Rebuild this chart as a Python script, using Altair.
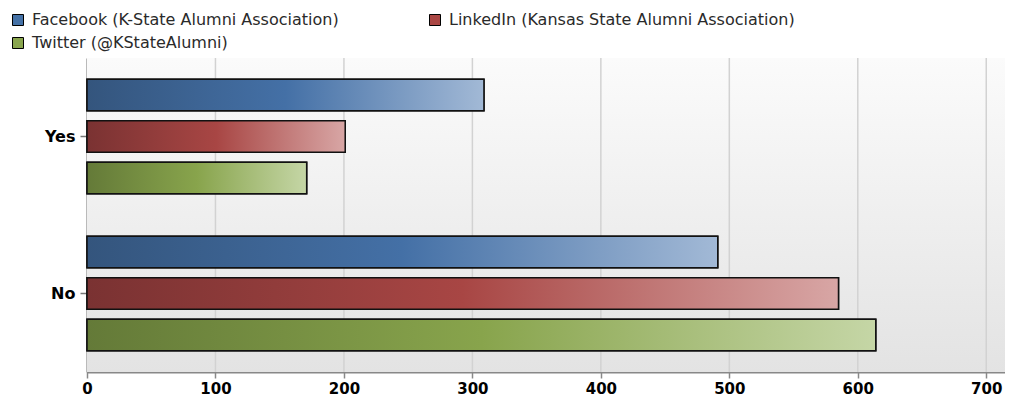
import altair as alt
import pandas as pd

categories = ["Yes", "No"]
series = [
    "Facebook (K-State Alumni Association)",
    "LinkedIn (Kansas State Alumni Association)",
    "Twitter (@KStateAlumni)",
]
facebook = [309, 491]
linkedin = [201, 585]
twitter = [171, 614]
x_ticks = [0, 100, 200, 300, 400, 500, 600, 700]

solid = ["#4572A7", "#AA4643", "#89A54E"]
grads = [
    ["#34557d", "#4470a6", "#a2b9d6"],
    ["#7a3232", "#a84644", "#d8a6a5"],
    ["#647a38", "#88a44c", "#c5d6a6"],
]

rows = []
for s, vals in zip(series, [facebook, linkedin, twitter]):
    for c, v in zip(categories, vals):
        rows.append({"category": c, "series": s, "value": v})
df = pd.DataFrame(rows)

W, H = 918, 314
XMAX = 714.6

xscale = alt.Scale(domain=[0, XMAX], nice=False, zero=True)
yscale = alt.Scale(domain=categories, paddingInner=0, paddingOuter=0)
yoff = alt.YOffset("series:N", sort=series,
                   scale=alt.Scale(domain=series, paddingInner=0.24, paddingOuter=0.51))

xaxis = alt.Axis(values=x_ticks, grid=False, title=None, domainColor="#888888", domainWidth=2,
                 tickColor="#888888", tickSize=6, tickWidth=1.5, labelFont="DejaVu Sans",
                 labelFontWeight="bold", labelFontSize=15, labelColor="#000000",
                 labelPadding=3, labelFlush=False)
yaxis = alt.Axis(title=None, domainColor="#777777", domainWidth=2, tickColor="#777777",
                 tickSize=7, tickWidth=1.5, labelFont="DejaVu Sans", labelFontWeight="bold",
                 labelFontSize=16, labelColor="#000000", labelPadding=5)

bg = alt.Chart(pd.DataFrame({"a": [0]})).mark_rect(
    fill={"gradient": "linear", "x1": 0, "x2": 0, "y1": 0, "y2": 1,
          "stops": [{"offset": 0, "color": "#fbfbfb"}, {"offset": 1, "color": "#e3e3e3"}]}
).encode(x=alt.value(0), x2=alt.value(W), y=alt.value(0), y2=alt.value(H))

grid = alt.Chart(pd.DataFrame({"t": x_ticks[1:]})).mark_rule(
    color="#d2d2d2", strokeWidth=1.5
).encode(x=alt.X("t:Q", scale=xscale, axis=xaxis))

base = alt.Chart(df).mark_bar(stroke="#111111", strokeWidth=1.5).encode(
    x=alt.X("value:Q", scale=xscale, axis=xaxis),
    y=alt.Y("category:N", sort=categories, scale=yscale, axis=yaxis),
    yOffset=yoff,
    color=alt.Color("series:N", sort=series,
                    scale=alt.Scale(domain=series, range=solid),
                    legend=alt.Legend(title=None, orient="none", legendX=-77, legendY=-46,
                                      columns=2, columnPadding=88, rowPadding=7,
                                      direction="horizontal", symbolType="square",
                                      symbolSize=121, symbolStrokeColor="#000000",
                                      symbolStrokeWidth=1, labelFont="DejaVu Sans",
                                      labelFontSize=16, labelColor="#2a2a2a",
                                      labelLimit=600, labelOffset=6)),
)

layers = [bg, grid, base]
for s, g in zip(series, grads):
    fill = {"gradient": "linear", "x1": 0, "x2": 1, "y1": 0, "y2": 0,
            "stops": [{"offset": 0, "color": g[0]}, {"offset": 0.5, "color": g[1]},
                      {"offset": 1, "color": g[2]}]}
    layers.append(
        alt.Chart(df).transform_filter(alt.datum.series == s).mark_bar(
            fill=fill, stroke="#111111", strokeWidth=1.5
        ).encode(
            x=alt.X("value:Q", scale=xscale, axis=xaxis),
            y=alt.Y("category:N", sort=categories, scale=yscale, axis=yaxis),
            yOffset=yoff,
        )
    )

chart = alt.layer(*layers).properties(
    width=W, height=H,
    autosize=alt.AutoSizeParams(type="none"),
    padding={"left": 79, "top": 50, "right": 0, "bottom": 25},
).configure_view(stroke=None).configure(background="#ffffff")

chart.save("out.html", embed_options={"renderer": "svg", "actions": False})
